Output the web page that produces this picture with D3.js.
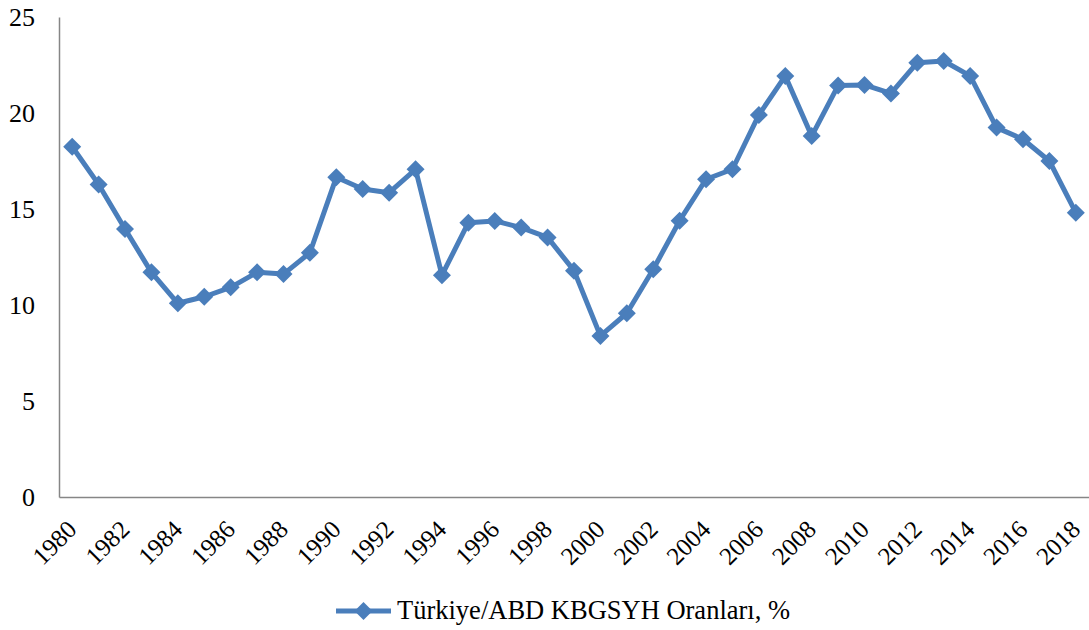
<!DOCTYPE html>
<meta charset="utf-8">
<style>
body{margin:0;background:white}
svg text{font-family:"Liberation Serif","Times New Roman",serif;fill:#000}
.axis path{stroke:#868686;stroke-width:1.5px}
.axis line{display:none}
</style>
<svg width="1089" height="630"></svg>
<script src="https://d3js.org/d3.v7.min.js"></script>
<script>
// years and Türkiye/ABD KBGSYH ratio (%)
var years = d3.range(1980, 2019);
var ratio = [18.24, 16.28, 13.96, 11.70, 10.09, 10.43, 10.92, 11.70, 11.61, 12.72,
             16.65, 16.04, 15.85, 17.07, 11.55, 14.29, 14.38, 14.03, 13.52, 11.79,
             8.39, 9.57, 11.86, 14.39, 16.55, 17.07, 19.90, 21.93, 18.80, 21.43,
             21.46, 21.02, 22.62, 22.71, 21.93, 19.24, 18.63, 17.50, 14.81];
var yTicks = [0, 5, 10, 15, 20, 25];
var seriesName = "Türkiye/ABD KBGSYH Oranları, %";

var svg = d3.select("svg"),
    margin = {left: 59, right: 0, top: 17, bottom: 133},
    width = +svg.attr("width") - margin.left - margin.right,
    height = +svg.attr("height") - margin.top - margin.bottom;

var color = "#4a7ebb";
var font = "'Liberation Serif','Times New Roman',serif";

var x = d3.scaleBand().domain(years).range([0, width]);
var y = d3.scaleLinear().domain([0, 25]).range([height, 0]);

var g = svg.append("g").attr("transform", "translate(" + margin.left + "," + margin.top + ")");

// y axis
var yAxis = g.append("g").attr("class", "axis")
    .call(d3.axisLeft(y).tickValues(yTicks).tickSize(0).tickPadding(24).tickSizeOuter(0));
yAxis.attr("font-family", null).attr("font-size", null);
yAxis.selectAll("text").style("font-size", "26px").style("font-family", font);

// x axis, labels every 2 years
var xAxis = g.append("g").attr("class", "axis")
    .attr("transform", "translate(0," + height + ")")
    .call(d3.axisBottom(x).tickSize(0).tickSizeOuter(0)
      .tickValues(years.filter(function(d) { return d % 2 == 0; })));
xAxis.attr("font-family", null).attr("font-size", null);
xAxis.selectAll("text")
    .style("font-size", "25px")
    .style("font-family", font)
    .attr("text-anchor", "end")
    .attr("x", 0).attr("y", 0).attr("dy", 0)
    .attr("transform", "translate(6,34) rotate(-45)");

var cx = function(d, i) { return x(years[i]) + x.bandwidth() / 2; };

var line = d3.line()
    .x(cx)
    .y(function(d) { return y(d); });

g.append("path")
    .datum(ratio)
    .attr("fill", "none")
    .attr("stroke", color)
    .attr("stroke-width", 5)
    .attr("stroke-linejoin", "round")
    .attr("d", line);

g.selectAll(".pt")
    .data(ratio)
    .enter().append("path")
    .attr("class", "pt")
    .attr("fill", color)
    .attr("d", "M0,-9L9,0L0,9L-9,0Z")
    .attr("transform", function(d, i) { return "translate(" + cx(d, i) + "," + y(d) + ")"; });

// legend
var leg = svg.append("g").attr("transform", "translate(336,611)");
leg.append("line").attr("x1", 0).attr("x2", 55)
    .attr("stroke", color).attr("stroke-width", 5);
leg.append("path").attr("d", "M0,-9L9,0L0,9L-9,0Z").attr("fill", color)
    .attr("transform", "translate(27.5,0)");
leg.append("text").attr("x", 61).attr("y", 8)
    .style("font-size", "26.5px")
    .style("font-family", font)
    .text(seriesName);
</script>
